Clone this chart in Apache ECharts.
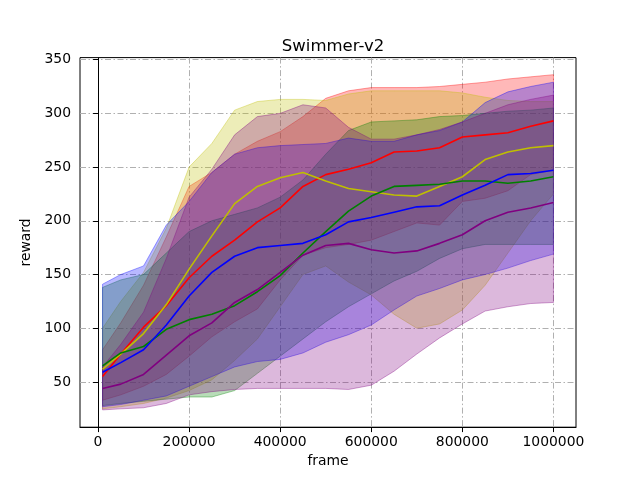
<!DOCTYPE html>
<html>
<head>
<meta charset="utf-8">
<script src="https://cdn.jsdelivr.net/npm/echarts@6/dist/echarts.min.js"></script>
<style>
  html, body { margin: 0; padding: 0; background: #fff; }
  #chart { width: 640px; height: 480px; }
</style>
</head>
<body>
<div id="chart"></div>
<script>
// x samples (frame)
var frames = [10000, 50000, 100000, 150000, 200000, 250000, 300000, 350000, 400000, 450000, 500000,
  550000, 600000, 650000, 700000, 750000, 800000, 850000, 900000, 950000, 1000000];

// tick labels
var xTicks = [0, 200000, 400000, 600000, 800000, 1000000];
var yTicks = [50, 100, 150, 200, 250, 300, 350];

// red run
var redMean  = [55, 76, 101, 121, 147, 167, 182, 199, 212, 232, 243, 248, 254, 264, 265, 268, 278, 280, 282, 288, 293];
var redUpper = [80, 105, 140, 185, 232, 245, 262, 274, 283, 297, 314, 321, 324, 324, 324, 325, 327, 329, 332, 334, 336];
var redLower = [33, 38, 46, 57, 74, 92, 106, 118, 145, 168, 175, 178, 182, 190, 198, 196, 218, 221, 228, 243, 247];

// yellow run
var yellowMean  = [62, 76, 95, 122, 155, 186, 216, 232, 240, 245, 237, 230, 227, 224, 223, 232, 241, 257, 264, 268, 270];
var yellowUpper = [100, 125, 152, 193, 250, 272, 303, 311, 313, 313, 312, 318, 321, 321, 321, 321, 319, 315, 312, 311, 311];
var yellowLower = [25, 27, 30, 35, 42, 52, 70, 90, 120, 150, 158, 143, 131, 113, 100, 104, 117, 140, 170, 200, 225];

// green run
var greenMean  = [65, 77, 83, 99, 108, 113, 121, 134, 149, 170, 190, 209, 223, 232, 233, 234, 237, 237, 235, 237, 241];
var greenUpper = [138, 145, 150, 170, 190, 200, 206, 212, 222, 238, 262, 284, 292, 293, 294, 297, 298, 300, 302, 303, 305];
var greenLower = [28, 30, 32, 34, 36, 36, 42, 58, 74, 90, 106, 120, 132, 144, 153, 165, 174, 178, 178, 178, 178];

// blue run
var blueMean  = [59, 68, 80, 103, 130, 152, 167, 175, 177, 179, 187, 199, 203, 208, 213, 214, 224, 233, 243, 244, 247];
var blueUpper = [141, 150, 158, 196, 218, 245, 262, 268, 270, 271, 272, 277, 274, 274, 280, 284, 292, 310, 320, 325, 329];
var blueLower = [27, 29, 33, 37, 46, 55, 64, 69, 71, 77, 87, 94, 103, 117, 130, 137, 145, 150, 156, 163, 169];

// purple run
var purpleMean  = [44, 48, 57, 75, 93, 105, 124, 136, 152, 168, 177, 179, 173, 170, 172, 179, 187, 200, 208, 212, 217];
var purpleUpper = [64, 85, 115, 165, 222, 248, 280, 297, 300, 308, 305, 287, 276, 276, 280, 285, 292, 300, 308, 313, 317];
var purpleLower = [24, 25, 26, 30, 38, 41, 43, 44, 44, 44, 44, 43, 47, 60, 76, 91, 104, 116, 120, 123, 124];

var FONT = 'DejaVu Sans';
var ALPHA = 0.28;

function pairs(vals) {
  var out = [];
  for (var i = 0; i < frames.length; i++) out.push([frames[i], vals[i]]);
  return out;
}

// shaded band between lower and upper, as one polygon through the axes
function band(rgb, lower, upper) {
  return {
    type: 'custom', silent: true, z: 1, clip: true,
    data: [[frames[0], lower[0]]],
    renderItem: function (params, api) {
      var pts = [];
      for (var i = 0; i < frames.length; i++) pts.push(api.coord([frames[i], upper[i]]));
      for (var j = frames.length - 1; j >= 0; j--) pts.push(api.coord([frames[j], lower[j]]));
      return {
        type: 'polygon',
        shape: { points: pts },
        style: {
          fill: 'rgba(' + rgb + ',' + ALPHA + ')',
          stroke: 'rgba(' + rgb + ',' + (ALPHA + 0.08) + ')',
          lineWidth: 1
        }
      };
    }
  };
}

function meanLine(color, vals) {
  return {
    type: 'line', data: pairs(vals), showSymbol: false, silent: true, z: 3,
    lineStyle: { color: color, width: 1.6 }
  };
}

var series = [
  band('255,0,0', redLower, redUpper),
  band('191,191,0', yellowLower, yellowUpper),
  band('0,128,0', greenLower, greenUpper),
  band('0,0,255', blueLower, blueUpper),
  band('128,0,128', purpleLower, purpleUpper),
  meanLine('#ff0000', redMean),
  meanLine('#bfbf00', yellowMean),
  meanLine('#008000', greenMean),
  meanLine('#0000ff', blueMean),
  meanLine('#800080', purpleMean)
];

var gridLine = { show: true, lineStyle: { color: '#b0b0b0', width: 1, type: [6, 2.5, 1.5, 2.5] } };

var chart = echarts.init(document.getElementById('chart'));
chart.setOption({
  animation: false,
  backgroundColor: '#fff',
  title: {
    text: 'Swimmer-v2', left: 328, top: 33, textAlign: 'center',
    textStyle: { fontFamily: FONT, fontSize: 16.5, fontWeight: 'normal', color: '#000' }
  },
  grid: { left: 80, right: 64, top: 57.6, bottom: 52.8, show: true, borderColor: '#000', borderWidth: 1, backgroundColor: 'transparent' },
  xAxis: {
    type: 'value', min: -39500, max: 1049500,
    name: 'frame', nameLocation: 'middle', nameGap: 25,
    nameTextStyle: { fontFamily: FONT, fontSize: 13.9, color: '#000' },
    axisLine: { show: true, lineStyle: { color: '#000' } },
    axisTick: { show: true, length: 4.9, lineStyle: { color: '#000' }, customValues: xTicks },
    axisLabel: { fontFamily: FONT, fontSize: 13.9, color: '#000', margin: 8, customValues: xTicks,
      formatter: function (v) { return String(v); } },
    splitLine: gridLine
  },
  yAxis: {
    type: 'value', min: 7.9, max: 351.9,
    name: 'reward', nameLocation: 'middle', nameGap: 37, nameRotate: 90,
    nameTextStyle: { fontFamily: FONT, fontSize: 13.9, color: '#000' },
    axisLine: { show: true, lineStyle: { color: '#000' } },
    axisTick: { show: true, length: 4.9, lineStyle: { color: '#000' }, customValues: yTicks },
    axisLabel: { fontFamily: FONT, fontSize: 13.9, color: '#000', margin: 9, customValues: yTicks,
      formatter: function (v) { return String(v); } },
    splitLine: gridLine
  },
  series: series
});
</script>
</body>
</html>
